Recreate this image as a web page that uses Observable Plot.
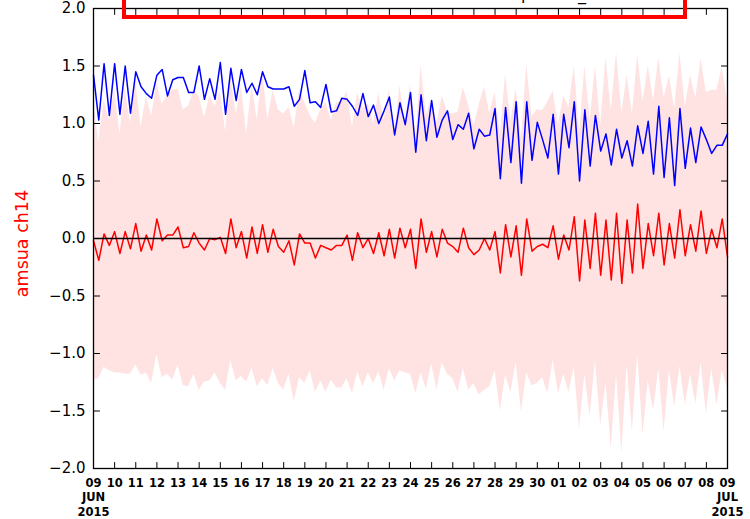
<!DOCTYPE html>
<html><head><meta charset="utf-8">
<script src="https://cdn.jsdelivr.net/npm/d3@7"></script>
<script src="https://cdn.jsdelivr.net/npm/@observablehq/plot@0.6"></script>
<style>
html,body{margin:0;padding:0;background:#fff;}
#chart svg{display:block;}
</style></head><body><div id="chart"></div>
<script>
// ---- data (6-hourly, 2015-06-09 00Z to 2015-07-09 00Z) ----
const startTime = "2015-06-09T00:00Z";
const endTime = "2015-07-09T00:00Z";
const stepHours = 6;

const blueSeries = [
  1.42,1.03,1.52,1.07,1.52,1.08,1.50,1.09,1.45,1.32,1.26,1.22,1.42,1.47,1.24,1.38,1.40,1.40,1.27,1.27,1.50,1.21,1.39,1.21,1.53,
  1.08,1.48,1.20,1.47,1.27,1.35,1.25,1.45,1.32,1.30,1.30,1.30,1.32,1.15,1.21,1.46,1.18,1.19,1.14,1.34,1.10,1.11,1.22,1.21,
  1.15,1.07,1.26,1.06,1.16,1.00,1.11,1.23,0.90,1.18,0.99,1.27,0.75,1.25,0.85,1.20,0.88,1.03,1.11,0.86,0.99,0.95,1.09,0.78,
  0.95,0.89,0.90,1.13,0.52,1.14,0.66,1.19,0.48,1.19,0.68,1.01,0.86,0.70,1.08,0.56,1.08,0.79,1.19,0.50,1.12,0.63,1.07,0.76,
  0.91,0.64,0.95,0.70,0.85,0.63,0.98,0.74,1.02,0.56,1.15,0.53,1.05,0.46,1.13,0.61,0.96,0.66,0.97,0.86,0.74,0.81,0.81,0.91
];
const redSeries = [
  -0.02,-0.19,0.04,-0.06,0.06,-0.13,0.06,-0.09,0.13,-0.11,0.03,-0.10,0.17,-0.02,0.03,0.03,0.10,-0.08,-0.07,0.05,-0.04,-0.10,0.00,-0.01,0.01,
  -0.13,0.17,-0.08,0.06,-0.17,0.10,-0.13,0.12,-0.12,0.08,-0.07,-0.12,-0.02,-0.23,0.04,-0.04,-0.04,-0.17,-0.06,-0.08,-0.10,-0.06,-0.06,0.03,
  -0.19,0.05,-0.08,0.00,-0.13,0.05,-0.15,0.08,-0.17,0.09,-0.08,0.08,-0.26,0.17,-0.12,0.06,-0.16,0.08,-0.04,-0.07,-0.12,0.09,-0.08,-0.14,
  -0.10,0.00,-0.10,0.06,-0.30,0.12,-0.16,0.11,-0.32,0.17,-0.11,-0.07,-0.05,-0.08,0.11,-0.18,0.03,-0.10,0.19,-0.37,0.16,-0.26,0.22,-0.32,
  0.16,-0.36,0.22,-0.39,0.16,-0.30,0.30,-0.26,0.13,-0.15,0.22,-0.23,0.13,-0.17,0.25,-0.15,0.12,-0.11,0.24,-0.13,0.08,-0.08,0.17,-0.16
];
const bandHigh = [
  1.19,0.84,1.20,1.03,1.29,0.91,1.30,1.00,1.36,0.97,1.23,1.06,1.35,1.17,1.24,1.29,1.30,1.12,1.15,1.28,1.24,1.05,1.24,1.15,1.28,
  0.93,1.40,1.08,1.32,0.91,1.33,1.03,1.46,1.04,1.29,1.12,1.08,1.14,0.96,1.29,1.18,1.07,1.00,1.12,1.18,1.03,1.18,1.18,1.28,
  0.97,1.26,1.13,1.17,1.00,1.26,1.02,1.29,0.90,1.33,1.01,1.34,0.83,1.51,1.07,1.21,1.00,1.24,1.10,1.08,1.10,1.31,1.16,0.98,
  1.16,1.32,1.09,1.27,0.90,1.43,1.02,1.30,0.87,1.51,1.06,1.12,1.11,1.19,1.28,0.99,1.24,1.14,1.50,0.92,1.50,1.03,1.50,0.99,
  1.57,1.11,1.62,1.09,1.42,1.08,1.60,1.19,1.50,1.20,1.57,1.22,1.41,1.13,1.61,1.15,1.42,1.22,1.56,1.27,1.29,1.29,1.49,1.20
];
const bandLow = [
  -1.23,-1.22,-1.12,-1.15,-1.17,-1.17,-1.18,-1.18,-1.10,-1.19,-1.17,-1.26,-1.01,-1.21,-1.18,-1.23,-1.10,-1.28,-1.29,-1.18,-1.32,-1.25,-1.24,-1.17,-1.26,
  -1.32,-1.06,-1.24,-1.20,-1.25,-1.13,-1.29,-1.22,-1.28,-1.13,-1.26,-1.32,-1.18,-1.42,-1.21,-1.26,-1.15,-1.34,-1.24,-1.34,-1.23,-1.30,-1.30,-1.22,
  -1.35,-1.16,-1.29,-1.17,-1.26,-1.16,-1.32,-1.13,-1.24,-1.15,-1.17,-1.18,-1.35,-1.17,-1.31,-1.09,-1.32,-1.08,-1.18,-1.22,-1.34,-1.13,-1.32,-1.26,
  -1.36,-1.32,-1.29,-1.15,-1.50,-1.19,-1.34,-1.08,-1.51,-1.17,-1.28,-1.26,-1.21,-1.35,-1.06,-1.35,-1.18,-1.34,-1.12,-1.66,-1.18,-1.55,-1.06,-1.63,
  -1.25,-1.83,-1.18,-1.87,-1.10,-1.68,-1.00,-1.71,-1.24,-1.50,-1.13,-1.68,-1.15,-1.47,-1.11,-1.45,-1.18,-1.44,-1.08,-1.53,-1.13,-1.45,-1.15,-1.30
];
const yTicks = [-2.0,-1.5,-1.0,-0.5,0.0,0.5,1.0,1.5,2.0];
const yLabel = "amsua ch14";
const titleFragments = ["p", "_"];

// ---- build table ----
const t0 = new Date(startTime);
const t1 = new Date(endTime);
const data = blueSeries.map((b, i) => ({
  t: d3.utcHour.offset(t0, stepHours * i),
  blue: b, red: redSeries[i], hi: bandHigh[i], lo: bandLow[i]
}));
const dayTicks = d3.utcDay.range(t0, d3.utcHour.offset(t1, 1));

const fmtDay = d => {
  const dd = d3.utcFormat("%d")(d);
  if (+d === +t0 || +d === +t1) return dd + "\n" + d3.utcFormat("%b")(d).toUpperCase() + "\n" + d3.utcFormat("%Y")(d);
  return dd;
};
const tickShape = {draw(ctx, l) { ctx.moveTo(0, 0); ctx.lineTo(0, -l); }};
const tickOpts = {length: 6, anchor: "start", shape: tickShape, stroke: "black", strokeWidth: 1};

const plot = Plot.plot({
  width: 750, height: 519,
  marginLeft: 93, marginRight: 23, marginTop: 8, marginBottom: 51,
  style: {fontFamily: "DejaVu Sans", background: "white", overflow: "hidden"},
  x: {type: "utc", domain: [t0, t1]},
  y: {domain: [-2, 2]},
  marks: [
    Plot.areaY(data, {x: "t", y1: "lo", y2: "hi", fill: "#ffe3e3", curve: "linear"}),
    Plot.lineY(data, {x: "t", y: "blue", stroke: "#0000ff", strokeWidth: 1.5}),
    Plot.lineY(data, {x: "t", y: "red", stroke: "#ff0000", strokeWidth: 1.5}),
    Plot.ruleY([0], {stroke: "black", strokeWidth: 1.3}),
    Plot.frame({stroke: "black", strokeWidth: 1.3}),
    Plot.vector(dayTicks, {x: d => d, frameAnchor: "bottom", rotate: 0, ...tickOpts}),
    Plot.vector(dayTicks, {x: d => d, frameAnchor: "top", rotate: 180, ...tickOpts}),
    Plot.vector(yTicks, {y: d => d, frameAnchor: "left", rotate: 90, ...tickOpts}),
    Plot.vector(yTicks, {y: d => d, frameAnchor: "right", rotate: -90, ...tickOpts}),
    Plot.axisX(dayTicks, {tickSize: 0, tickPadding: 9, tickFormat: fmtDay, fontSize: 11.5, fontWeight: "bold", lineHeight: 1.22, label: null, fill: "black"}),
    Plot.axisY(yTicks, {tickSize: 0, tickPadding: 8, tickFormat: d3.format(".1f"), fontSize: 15, label: null, fill: "black"}),
    Plot.text([yLabel], {frameAnchor: "left", rotate: -90, dx: -71, dy: 5, textAnchor: "middle", lineAnchor: "middle", fill: "red", fontSize: 17.5})
  ]
});
document.getElementById("chart").appendChild(plot);

// title box at the top (mostly cut off, as in the reference)
const svg = d3.select(plot);
svg.append("rect").attr("x", 124).attr("y", -12).attr("width", 561).attr("height", 29)
  .attr("fill", "none").attr("stroke", "#ff0000").attr("stroke-width", 4);
svg.append("text").attr("x", 526).attr("y", 0).attr("font-size", 16).attr("fill", "black").text(titleFragments[0]);
svg.append("text").attr("x", 582).attr("y", 0).attr("font-size", 16).attr("fill", "black").text(titleFragments[1]);
</script></body></html>
